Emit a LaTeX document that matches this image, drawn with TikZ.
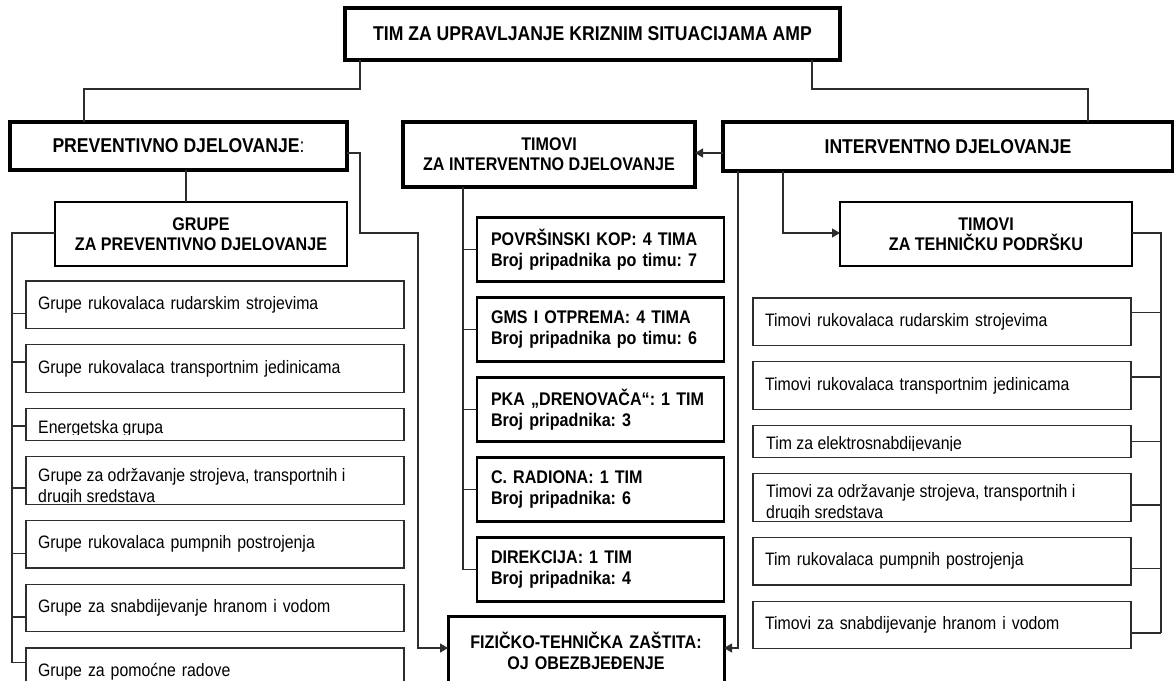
\documentclass[tikz,border=0pt]{standalone}
\usepackage{fontspec}
\setmainfont{Liberation Sans}[FakeStretch=0.88]
\usetikzlibrary{arrows.meta,positioning,calc}
\definecolor{KrizLine}{RGB}{45,45,45}
\frenchspacing

\begin{document}
\begin{tikzpicture}[
    x=1pt,y=-1pt,
    node distance=16.25pt,
    box/.style={draw,outer sep=0pt,inner sep=0pt,align=center},
    head/.style={box,line width=4pt,font=\fontsize{20}{21}\selectfont\bfseries},
    sub/.style={box,line width=2.5pt,minimum width=292pt,minimum height=64pt,font=\fontsize{18.3}{20}\selectfont\bfseries},
    team/.style={box,line width=2.5pt,minimum width=247pt,minimum height=64pt,text width=219pt,align=left,inner xsep=14pt,font=\fontsize{18.3}{21}\selectfont\bfseries},
    item/.style={box,draw=KrizLine,line width=1.4pt,minimum width=378pt,minimum height=47.5pt,text width=354pt,align=left,inner xsep=12pt,font=\fontsize{18}{21}\selectfont},
    short/.style={item,minimum height=32pt},
    cuttext/.style={anchor=base west,inner sep=0pt,align=left,font=\fontsize{18}{21}\selectfont},
    line/.style={draw=KrizLine,line width=1.2pt},
    arr/.style={line,-{Triangle[length=8pt,width=9pt]}}
  ]
    \clip (0,0) rectangle (1174,680);
    % main levels
    \node[head,minimum width=495pt,minimum height=52pt] (top) at (592.5,34) {TIM ZA UPRAVLJANJE KRIZNIM SITUACIJAMA AMP};
    \node[head,minimum width=337pt,minimum height=48pt] (prev) at (178.5,146) {PREVENTIVNO DJELOVANJE\mdseries:};
    \node[head,minimum width=292pt,minimum height=65pt,font=\fontsize{18.3}{20}\selectfont\bfseries] (timint) at (549,154.5) {TIMOVI\\ZA INTERVENTNO DJELOVANJE};
    \node[head,minimum width=450pt,minimum height=49pt] (interv) at (948,146.5) {INTERVENTNO DJELOVANJE};
    \node[sub] (grupe) at (201,234) {GRUPE\\ZA PREVENTIVNO DJELOVANJE};
    \node[sub] (tehn) at (986,234) {TIMOVI\\ZA TEHNIČKU PODRŠKU};
    % intervention teams
    \node[team] (m1) at (600.5,249.5) {POVRŠINSKI KOP: 4 TIMA\\Broj pripadnika po timu: 7};
    \node[team,below=16pt of m1] (m2) {GMS I OTPREMA: 4 TIMA\\Broj pripadnika po timu: 6};
    \node[team,below=16pt of m2] (m3) {PKA „DRENOVAČA“: 1 TIM\\Broj pripadnika: 3};
    \node[team,below=16pt of m3] (m4) {C. RADIONA: 1 TIM\\Broj pripadnika: 6};
    \node[team,below=16pt of m4] (m5) {DIREKCIJA: 1 TIM\\Broj pripadnika: 4};
    \node[team,line width=3pt,minimum width=276pt,minimum height=70pt,text width=248pt,align=center] (fiz) at (586,651) {FIZIČKO-TEHNIČKA ZAŠTITA:\\OJ OBEZBJEĐENJE};
    % preventive groups
    \node[item] (l1) at (215,304.75) {Grupe rukovalaca rudarskim strojevima};
    \node[item,below=of l1] (l2) {Grupe rukovalaca transportnim jedinicama};
    \node[short,below=of l2] (l3) {};
    \node[item,below=of l3] (l4) {};
    \node[item,below=of l4] (l5) {Grupe rukovalaca pumpnih postrojenja};
    \node[item,below=of l5] (l6) {Grupe za snabdijevanje hranom i vodom};
    \node[item,below=of l6] (l7) {Grupe za pomoćne radove};
    % technical support teams
    \node[item] (r1) at (942,321.75) {Timovi rukovalaca rudarskim strojevima};
    \node[item,below=of r1] (r2) {Timovi rukovalaca transportnim jedinicama};
    \node[short,below=of r2] (r3) {};
    \node[item,below=of r3] (r4) {};
    \node[item,below=of r4] (r5) {Tim rukovalaca pumpnih postrojenja};
    \node[item,below=of r5] (r6) {Timovi za snabdijevanje hranom i vodom};
    % texts cut by their frames
    \begin{scope}
      \clip (l3.north west) rectangle ([yshift=6pt]l3.south east);
      \node[cuttext] (l3txt) at ([xshift=12pt,yshift=-24.5pt]l3.north west) {Energetska grupa};
    \end{scope}
    \begin{scope}
      \clip (l4.north west) rectangle ([yshift=1.5pt]l4.south east);
      \node[cuttext] (l4txt) at ([xshift=12pt,yshift=-45.25pt]l4.north west) {Grupe za održavanje strojeva, transportnih i\\drugih sredstava};
    \end{scope}
    \begin{scope}
      \clip (r3.north west) rectangle ([yshift=7pt]r3.south east);
      \node[cuttext] (r3txt) at ([xshift=13pt,yshift=-23.5pt]r3.north west) {Tim za elektrosnabdijevanje};
    \end{scope}
    \begin{scope}
      \clip (r4.north west) rectangle ([yshift=2.5pt]r4.south east);
      \node[cuttext] (r4txt) at ([xshift=13pt,yshift=-44.25pt]r4.north west) {Timovi za održavanje strojeva, transportnih i\\drugih sredstava};
    \end{scope}
    % connectors
    \draw[line] ([xshift=15pt]top.south west) -- ++(0,29) -| ([xshift=74pt]prev.north west);
    \draw[line] ([xshift=-28pt]top.south east) -- ++(0,29) -| ([xshift=365pt]interv.north west);
    \draw[line] ([xshift=7.5pt]prev.south) -- ([xshift=7.5pt]prev.south |- grupe.north);
    \draw[arr] ([yshift=-7pt]prev.east) -- ++(13,0) -- ++(0,80) -- ++(58,0) |- ([yshift=3pt]fiz.west);
    \draw[arr] ([yshift=-6.5pt]interv.west) -- ([yshift=-6.5pt]interv.west -| timint.east);
    \draw[arr] ([xshift=15pt]interv.south west) |- ([yshift=3pt]fiz.east);
    \draw[arr] ([xshift=60pt]interv.south west) |- ([yshift=1pt]tehn.west);
    \coordinate (mbus) at ([xshift=60pt]timint.south west);
    \draw[line] (mbus) |- (m5.west);
    \foreach \n in {1,...,4}
      \draw[line] (mbus |- m\n.west) -- (m\n.west);
    \draw[line] ([yshift=1pt]grupe.west) -| ([xshift=-14pt,yshift=9pt]l7.west);
    \foreach \n/\s in {1/-9,2/6.5,3/-1.5,4/-7.5,5/-9,6/-9,7/9}
      \draw[line] ([yshift=\s pt]l\n.west) -- ++(-14,0);
    \draw[line] ([yshift=1pt]tehn.east) -| ([xshift=30pt,yshift=-8pt]r6.east);
    \foreach \n/\s in {1/9,2/8.5,3/0,4/-7.5,5/-7,6/-8}
      \draw[line] ([yshift=\s pt]r\n.east) -- ++(30,0);
  \end{tikzpicture}
\end{document}
